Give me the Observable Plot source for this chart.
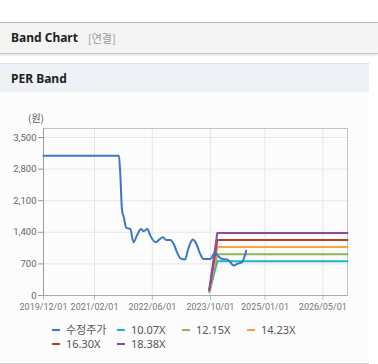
<!DOCTYPE html>
<html>
<head>
<meta charset="utf-8">
<script src="https://cdn.jsdelivr.net/npm/d3@7"></script>
<script src="https://cdn.jsdelivr.net/npm/@observablehq/plot@0.6"></script>
<style>
  html, body { margin: 0; padding: 0; background: #fff; }
  body { width: 378px; height: 364px; position: relative; overflow: hidden; font-family: "Noto Sans", "Noto Sans CJK KR", sans-serif; }
  .hdr { position: absolute; left: 0; top: 22px; width: 378px; height: 30px; background: #f4f4f4; border-top: 1px solid #bdbdbd; border-bottom: 1px solid #c8c8c8; box-shadow: 0 1px 2px rgba(0,0,0,0.15); }
  .hdr .t { position: absolute; left: 11px; top: 6px; font-size: 12px; font-weight: bold; color: #222; }
  .hdr .s { position: absolute; left: 88px; top: 7px; font-size: 11px; color: #999; font-family: "Noto Sans CJK KR", sans-serif; }
  .panel { position: absolute; left: 0; top: 63px; width: 369px; height: 299px; background: #fcfcfc; border-top: 1px solid #dde2ea; border-bottom: 1px solid #d0d0d0; }
  .ptitle { position: absolute; left: 0; top: 0; width: 369px; height: 28px; background: #eef2f7; }
  .ptitle span { position: absolute; left: 11px; top: 6px; font-size: 12px; font-weight: bold; color: #222; }
  #chart { position: absolute; left: 0; top: 100px; }
  .unit { position: absolute; left: 28px; top: 110px; font-size: 10px; color: #555; font-family: "Noto Sans CJK KR", sans-serif; }
  .leg { position: absolute; font-size: 11px; color: #555; white-space: nowrap; line-height: 13px; display: flex; align-items: center; }
  .leg i { display: inline-block; width: 8px; height: 2px; margin-right: 6px; }
</style>
</head>
<body>
<div class="hdr"><span class="t">Band Chart</span><span class="s">[연결]</span></div>
<div class="panel"><div class="ptitle"><span>PER Band</span></div></div>
<div class="unit">(원)</div>
<div id="chart"></div>
<div id="legend"></div>
<script>
// Price (수정주가)
const priceDates = ["2019-12-01","2021-08-25","2021-09-05","2021-09-20","2021-10-05","2021-10-25","2021-11-28","2021-12-25","2022-01-22","2022-02-27","2022-03-20","2022-04-20","2022-05-15","2022-06-28","2022-07-25","2022-08-28","2022-09-25","2022-10-30","2022-11-27","2022-12-25","2023-01-28","2023-03-04","2023-03-25","2023-04-15","2023-05-07","2023-06-04","2023-07-07","2023-08-04","2023-10-01","2023-10-28","2023-11-12","2023-12-01","2024-01-07","2024-02-18","2024-03-16","2024-04-13","2024-05-12","2024-06-23","2024-07-27"];
const priceValues = [3095,3095,2690,1880,1731,1497,1475,1178,1327,1475,1422,1475,1327,1178,1231,1289,1231,1231,1142,957,811,800,995,1156,1240,1150,922,811,811,922,957,884,811,800,737,663,700,737,990];

// PER bands
const bandDates = ["2023-09-22","2023-11-28","2026-11-24"];
const band1007 = [75, 759, 759];
const band1215 = [90, 916, 916];
const band1423 = [106, 1073, 1073];
const band1630 = [121, 1229, 1229];
const band1838 = [137, 1386, 1386];

const seriesNames = ["수정주가","10.07X","12.15X","14.23X","16.30X","18.38X"];
const seriesColors = ["#3a78c6","#1ab5cb","#8db25b","#f5a535","#c0392f","#8b4c9c"];

const yTicks = [0,700,1400,2100,2800,3500];
const xTickDates = ["2019-12-01","2021-02-01","2022-06-01","2023-10-01","2025-01-01","2026-05-01"];
const xTickLabels = ["2019/12/01","2021/02/01","2022/06/01","2023/10/01","2025/01/01","2026/05/01"];

const parse = d3.utcParse("%Y-%m-%d");
const price = priceDates.map((d, i) => ({date: parse(d), value: priceValues[i]}));
const bandArrays = [band1007, band1215, band1423, band1630, band1838];
const bands = bandArrays.map((arr, k) => arr.map((v, i) => ({date: parse(bandDates[i]), value: v, s: seriesNames[k + 1]})));
const xTicks = xTickDates.map(parse);
const labelOf = new Map(xTicks.map((d, i) => [+d, xTickLabels[i]]));

const marks = [
  Plot.gridX(xTicks, {stroke: "#e6e6e6", strokeOpacity: 1}),
  Plot.gridY(yTicks, {stroke: "#e6e6e6", strokeOpacity: 1}),
  Plot.frame({stroke: "#c4c4c4"}),
  Plot.axisY(yTicks, {tickFormat: d3.format(","), fontSize: 9.5, color: "#666", tickSize: 5, tickPadding: 2, stroke: "#999", label: null}),
  Plot.axisX(xTicks, {tickFormat: d => labelOf.get(+d), fontSize: 9, color: "#777", tickSize: 5, tickPadding: 3, stroke: "#bbb", label: null}),
  Plot.ruleX([parse("2019-12-01")], {stroke: "#9a9a9a"}),
  Plot.ruleY([0], {stroke: "#aaa"})
];
bands.forEach((b, k) => marks.push(Plot.line(b, {x: "date", y: "value", stroke: seriesColors[k + 1], strokeWidth: 2})));
marks.push(Plot.line(price, {x: "date", y: "value", stroke: seriesColors[0], strokeWidth: 2, curve: "monotone-x"}));

const chart = Plot.plot({
  width: 369,
  height: 215,
  marginTop: 28,
  marginLeft: 43,
  marginRight: 22,
  marginBottom: 20,
  style: {background: "transparent", fontFamily: "Roboto, 'Noto Sans', sans-serif"},
  x: {type: "utc", domain: [parse("2019-12-01"), parse("2026-11-24")], label: null},
  y: {domain: [0, 3700], label: null},
  marks
});
document.getElementById("chart").appendChild(chart);

// legend
const legPos = [[52,323],[117,323],[182,323],[247,323],[52,337],[117,337]];
const legend = document.getElementById("legend");
seriesNames.forEach((n, i) => {
  const el = document.createElement("div");
  el.className = "leg";
  el.style.left = legPos[i][0] + "px";
  el.style.top = legPos[i][1] + "px";
  if (i === 0) el.style.fontFamily = "'Noto Sans CJK KR', sans-serif";
  el.innerHTML = `<i style="background:${seriesColors[i]}"></i><span>${n}</span>`;
  legend.appendChild(el);
});
</script>
</body>
</html>
